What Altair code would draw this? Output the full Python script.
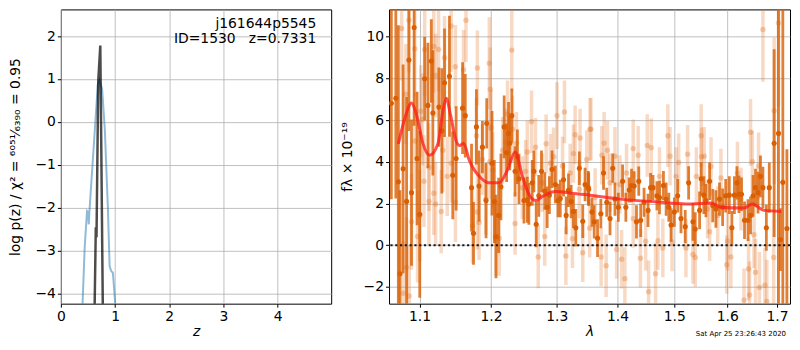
import altair as alt
import pandas as pd

# ---------------- left panel: p(z) ----------------
pz_z = [0.39, 0.44, 0.483, 0.50, 0.515, 0.528, 0.682, 0.713, 0.762, 0.812,
        0.868, 0.90, 0.93, 0.96, 0.998, 1.02]
pz_logp = [-4.6, -2.92, -2.08, -2.10, -2.39, -2.08, 0.87, 0.98, 0.76, -0.19,
           -2.01, -3.37, -3.48, -3.52, -4.13, -4.6]

pzfine_z = [0.620, 0.645, 0.658, 0.690, 0.728, 0.775, 0.790]
pzfine_logp = [-4.6, -2.46, -2.69, 0.95, 1.78, -4.4, -4.8]

z_ticks = [0, 1, 2, 3, 4]
logp_ticks = [-4, -3, -2, -1, 0, 1, 2]
label_lines = ["j161644p5545", "ID=1530\u00a0\u00a0\u00a0z=0.7331"]

# ---------------- right panel: spectrum ----------------
model_lam = [1.0721, 1.0808, 1.0894, 1.0960, 1.1048, 1.1137, 1.1250, 1.1318, 1.1364,
             1.1423, 1.1502, 1.1553, 1.1607, 1.1687, 1.1854, 1.1972, 1.2122, 1.2245,
             1.2358, 1.2469, 1.2567, 1.2669, 1.2797, 1.2979, 1.3243, 1.3537, 1.4042,
             1.4617, 1.5307, 1.5687, 1.5877, 1.6330, 1.6495, 1.6730, 1.7088]
model_flux = [4.86, 6.11, 6.81, 6.26, 4.86, 4.31, 4.86, 6.42, 7.04,
              6.26, 5.01, 4.78, 4.89, 4.08, 3.22, 2.99, 2.99, 3.61,
              4.47, 3.30, 2.44, 2.14, 2.37, 2.57, 2.49, 2.40, 2.21,
              2.09, 1.98, 2.02, 1.82, 1.78, 1.98, 1.67, 1.62]

dark_lam = [
    1.0630, 1.0688, 1.0721, 1.0742, 1.0783, 1.0829, 1.0860, 1.0894, 1.0929, 1.0968,
    1.1004, 1.1070, 1.1114, 1.1160, 1.1181, 1.1263, 1.1304, 1.1341, 1.1409, 1.1455,
    1.1502, 1.1593, 1.1631, 1.1720, 1.1748, 1.1790, 1.1828, 1.1876, 1.1939,
    1.1929, 1.2016, 1.2049, 1.2074, 1.2113, 1.2147, 1.2195, 1.2231, 1.2260, 1.2279,
    1.2309, 1.2358, 1.2393, 1.2417, 1.2492, 1.2543, 1.2567, 1.2619, 1.2644, 1.2680,
    1.2720, 1.2762, 1.2813, 1.2850, 1.2885, 1.2927, 1.2979, 1.3021, 1.3057, 1.3109,
    1.3151, 1.3188, 1.3231, 1.3268, 1.3306, 1.3364, 1.3419, 1.3457, 1.3510,
    1.3516, 1.3570, 1.3607, 1.3663, 1.3718, 1.3763, 1.3817, 1.3872, 1.3918, 1.3956,
    1.4013, 1.4086, 1.4142, 1.4200, 1.4240, 1.4286, 1.4326, 1.4366, 1.4400, 1.4459,
    1.4529, 1.4574, 1.4617, 1.4687, 1.4733, 1.4804, 1.4853, 1.4901, 1.4942, 1.5002,
    1.5063, 1.5124, 1.5202, 1.5265,
    1.5345, 1.5388, 1.5470, 1.5500, 1.5550, 1.5590, 1.5660, 1.5720, 1.5780, 1.5850,
    1.5910, 1.5970, 1.6040, 1.6090, 1.6140, 1.6190, 1.6230, 1.6280, 1.6340, 1.6410,
    1.6460, 1.6510, 1.6560, 1.6610, 1.6660, 1.6710, 1.6780, 1.6840, 1.6940, 1.7030,
    1.7070, 1.7120, 1.7205]
dark_flux = [
    6.80, 7.04, 3.04, -1.37, 3.66, 2.10, 8.88, 2.52, 10.43, 4.16,
    1.48, 7.98, 6.70, 8.83, 6.34, 6.62, 5.48, 7.79, 8.10, 3.35,
    4.16, 6.57, 6.21, 2.76, 0.57, 5.67, 2.84, 4.70, 5.84,
    2.14, 3.93, 2.09, 0.42, 1.43, 2.80, 5.67, 4.43, 5.36, 4.89,
    6.21, 3.54, 4.24, 3.18, 2.14, 2.18, 1.98, 2.99, 3.54, 1.00,
    2.37, 3.54, 2.60, 1.82, 2.40, 3.64, 2.91, 2.14, 2.24, 3.14,
    1.43, 2.63, 2.09, 1.62, 0.84, 3.69, 1.15, 2.91, 2.76,
    2.68, 1.59, 1.12, 0.34, 1.51, 3.46, 2.06, 1.28, 3.69, 2.21,
    1.82, 3.07, 1.82, 2.65, 2.86, 2.84, 1.12, 3.07, 1.20, 2.06,
    1.67, 2.76, 2.76, 2.37, 2.29, 2.86, 2.21, 1.82, 0.97, 1.59,
    2.37, 1.28, 0.89, 2.99,
    1.12, 0.78, 1.67, 3.18, 2.40, 2.14, 3.07, 1.90, 1.74, 2.21,
    1.82, 2.37, 2.40, 0.84, 2.40, 2.99, 2.44, 2.44, 1.20, 1.20,
    1.43, 2.37, 2.76, 2.52, 3.30, 2.76, 0.84, 2.76, 4.89, 5.36,
    0.27, 3.02, 0.80]
dark_err = [
    4.6, 4.8, 7.5, 4.0, 5.0, 5.0, 3.4, 3.5, 4.7, 3.2,
    4.0, 2.0, 3.0, 2.0, 3.0, 1.9, 3.0, 2.6, 2.9, 2.1,
    2.5, 2.2, 2.0, 2.1, 1.5, 1.8, 1.7, 1.25, 1.2,
    1.8, 2.5, 2.0, 2.0, 1.8, 1.6, 1.5, 1.4, 1.5, 1.3,
    1.3, 1.2, 1.3, 1.2, 1.1, 1.1, 1.0, 1.1, 1.0, 1.1,
    1.0, 1.0, 0.9, 1.0, 0.9, 0.9, 0.9, 0.8, 0.9, 0.8,
    0.9, 0.8, 0.8, 0.8, 0.9, 0.8, 0.8, 0.8, 0.8,
    0.8, 0.7, 0.8, 0.9, 0.7, 0.8, 0.7, 0.8, 0.7, 0.8,
    0.7, 0.8, 0.7, 0.6, 0.8, 0.7, 0.8, 0.7, 0.8, 0.7,
    0.8, 0.7, 0.6, 0.7, 0.8, 0.7, 0.8, 0.7, 0.8, 0.7,
    0.8, 0.7, 0.8, 0.8,
    0.9, 0.8, 0.9, 0.8, 0.9, 0.8, 0.9, 0.8, 0.9, 0.8,
    0.9, 0.8, 0.9, 0.8, 0.9, 0.8, 0.9, 0.8, 0.9, 1.0,
    0.9, 1.0, 0.9, 1.0, 1.0, 1.0, 1.1, 1.2, 4.5, 10.0,
    1.5, 10.0, 3.8]

light_lam = [
    1.0764, 1.0860, 1.0938, 1.1070, 1.1194, 1.1259, 1.1341, 1.1433, 1.1492, 1.1607,
    1.1641, 1.1804, 1.1218, 1.0820, 1.1017, 1.1040, 1.0938, 1.1128, 1.1061, 1.1194,
    1.1128, 1.1218, 1.1295, 1.1378, 1.1433, 1.1492, 1.1318, 1.1004, 1.0894, 1.0974,
    1.0829, 1.0783, 1.0864, 1.1804, 1.1828, 1.1734, 1.1925, 1.1790, 1.1876,
    1.1977, 1.1990, 1.2001, 1.1985, 1.2074, 1.2122, 1.2245, 1.2220, 1.2309, 1.2319,
    1.2379, 1.2358, 1.2543, 1.2608, 1.2669, 1.2711, 1.2813, 1.2834, 1.2952, 1.3005,
    1.3093, 1.3124, 1.3146, 1.3252, 1.3295, 1.3375, 1.3419, 1.3484, 1.3538, 1.2772,
    1.2901, 1.2517, 1.2468, 1.2172, 1.2027, 1.3215, 1.3364, 1.3268,
    1.3554, 1.3773, 1.3829, 1.3734, 1.3956, 1.3723, 1.3806, 1.4069, 1.4125, 1.4269,
    1.4355, 1.4395, 1.4516, 1.4586, 1.4539, 1.4663, 1.4705, 1.4883, 1.4924, 1.5081,
    1.5246, 1.5215, 1.4960, 1.4793, 1.4154, 1.4040, 1.3872, 1.3623, 1.3533, 1.3984,
    1.4269, 1.4487, 1.5033, 1.4733,
    1.5500, 1.5505, 1.5557, 1.5687, 1.5877, 1.6460, 1.6495, 1.6622, 1.6710, 1.6940,
    1.7030, 1.5345, 1.5388, 1.5990, 1.6070, 1.6420, 1.6560, 1.6640, 1.6750, 1.6930,
    1.6330, 1.6440, 1.6790, 1.5620, 1.5815, 1.6200, 1.6270, 1.6530, 1.5410, 1.6006,
    1.5660]
light_flux = [
    10.39, 10.78, 9.42, 9.38, 9.53, 9.38, 8.99, 10.51, 8.55, 8.41,
    10.78, 8.49, 8.13, 7.24, 6.42, 6.03, 4.99, 3.74, 3.07, 2.49,
    2.10, 1.98, 1.62, 3.30, 3.93, 2.06, 4.55, 1.43, 1.12, 0.42,
    -1.06, -2.30, -2.43, 1.59, 1.09, 0.93, 2.21, 5.25, 4.11,
    8.72, 7.48, 5.64, 4.00, 0.34, 0.34, 6.29, 4.94, 9.35, 5.56,
    4.89, 1.04, 4.47, 5.92, 4.70, -0.56, 0.42, 4.86, 4.24, 6.21,
    3.80, 6.39, -0.51, 0.31, 5.29, 5.14, -0.36, 4.11, 5.56, 2.99,
    3.93, 3.54, 2.76, 4.55, 3.61, 3.46, 2.68, 4.39,
    5.56, 4.89, 4.55, 4.31, 4.27, -0.56, -0.98, -0.67, -1.60, 4.63,
    4.31, -0.62, 4.78, 4.67, -2.23, -1.37, 0.22, 5.25, 4.27, 3.96,
    4.36, -0.13, 0.15, -0.13, 3.46, 2.91, 2.99, 2.29, 0.81, -0.20,
    1.28, 0.19, 3.30, 3.30,
    5.25, 4.24, 4.27, 3.77, 3.22, 5.41, 4.00, 3.80, 10.34, 6.45,
    10.65, -0.44, -0.59, -0.93, -0.56, -1.14, -1.29, -2.02, -1.92, -0.59,
    -2.62, -2.38, -2.70, 1.74, 1.43, 3.46, 2.21, 0.50, 3.30, 0.19,
    0.65]
light_err = [
    2.5, 2.5, 2.3, 2.2, 2.2, 2.0, 2.0, 2.2, 2.0, 1.9,
    2.0, 1.8, 2.0, 2.4, 2.2, 2.2, 2.3, 2.1, 2.2, 2.0,
    2.1, 2.0, 2.0, 1.9, 1.9, 1.9, 2.0, 2.2, 2.3, 2.2,
    2.4, 2.5, 2.4, 1.8, 1.8, 1.8, 1.7, 1.8, 1.7,
    2.2, 2.0, 1.8, 1.8, 1.8, 1.8, 1.6, 1.6, 2.0, 1.6,
    1.5, 1.5, 1.5, 1.5, 1.4, 1.5, 1.4, 1.4, 1.4, 1.6,
    1.4, 1.5, 1.4, 1.4, 1.4, 1.4, 1.4, 1.4, 1.5, 1.4,
    1.4, 1.5, 1.5, 1.6, 1.8, 1.4, 1.4, 1.4,
    1.5, 1.5, 1.4, 1.4, 1.4, 1.4, 1.5, 1.4, 1.5, 1.4,
    1.4, 1.4, 1.5, 1.4, 1.5, 1.5, 1.4, 1.5, 1.4, 1.4,
    1.4, 1.4, 1.4, 1.4, 1.4, 1.4, 1.4, 1.4, 1.4, 1.4,
    1.4, 1.4, 1.4, 1.4,
    1.5, 1.4, 1.4, 1.4, 1.4, 1.6, 1.5, 1.6, 2.5, 3.5,
    4.0, 1.4, 1.4, 1.4, 1.5, 1.5, 1.6, 1.7, 1.8, 2.5,
    1.5, 1.6, 2.0, 1.4, 1.4, 1.5, 1.5, 1.6, 1.4, 1.4,
    1.4]

lam_ticks = [1.1, 1.2, 1.3, 1.4, 1.5, 1.6, 1.7]
flux_ticks = [-2, 0, 2, 4, 6, 8, 10]
timestamp = "Sat Apr 25 23:26:43 2020"

# ---------------- build ----------------
W1, W2, H = 271, 402, 295
ORANGE = "#d95f02"

df_pz = pd.DataFrame({"z": pz_z, "logp": pz_logp})
df_fine = pd.DataFrame({"z": pzfine_z, "logp": pzfine_logp})

z_scale = alt.Scale(domain=[0, 4.99], nice=False, zero=False)
p_scale = alt.Scale(domain=[-4.24, 2.62], nice=False, zero=False)
xz = alt.X("z:Q", scale=z_scale,
           axis=alt.Axis(values=z_ticks, format="d", title="z", titleFontStyle="italic"))
yz = alt.Y("logp:Q", scale=p_scale,
           axis=alt.Axis(values=logp_ticks, format="d",
                         title="log p(z) / χ² = ⁶⁰⁵¹⁄₆₃₉₀ = 0.95", titlePadding=12))

blue = alt.Chart(df_pz).mark_line(clip=True, color="#1f77b4", opacity=0.5,
                                  strokeWidth=2).encode(x=xz, y=yz)
spike = alt.Chart(df_fine).mark_line(clip=True, color="black", opacity=0.7,
                                     strokeWidth=2.5).encode(x=xz, y=yz)
txt1 = alt.Chart(pd.DataFrame({"t": [label_lines[0]]})).mark_text(
    align="right", baseline="alphabetic", fontSize=13.9, color="black").encode(
    x=alt.value(W1 - 15), y=alt.value(19), text="t:N")
txt2 = alt.Chart(pd.DataFrame({"t": [label_lines[1]]})).mark_text(
    align="right", baseline="alphabetic", fontSize=13.9, color="black").encode(
    x=alt.value(W1 - 15), y=alt.value(34), text="t:N")

left = alt.layer(blue, spike, txt1, txt2).properties(width=W1, height=H)

lam_scale = alt.Scale(type="log", domain=[1.06, 1.727], nice=False, zero=False)
f_scale = alt.Scale(domain=[-2.8, 11.3], nice=False, zero=False)
lam_axis = alt.Axis(values=lam_ticks, format=".1f", title="λ", titleFontStyle="italic")
f_axis = alt.Axis(values=flux_ticks, format="d", title="fλ × 10⁻¹⁹", titlePadding=9)


def xl(field):
    return alt.X(field + ":Q", scale=lam_scale, axis=lam_axis)


def yf(field):
    return alt.Y(field + ":Q", scale=f_scale, axis=f_axis)


dark = pd.DataFrame({"lam": dark_lam, "flux": dark_flux, "err": dark_err})
dark["lo"] = dark["flux"] - dark["err"]
dark["hi"] = dark["flux"] + dark["err"]
light = pd.DataFrame({"lam": light_lam, "flux": light_flux, "err": light_err})
light["lo"] = light["flux"] - light["err"]
light["hi"] = light["flux"] + light["err"]
model = pd.DataFrame({"lam": model_lam, "flux": model_flux})

light_bars = alt.Chart(light).mark_rule(clip=True, color="#e2782a", opacity=0.28,
                                        strokeWidth=3.5).encode(
    x=xl("lam"), y=yf("lo"), y2="hi:Q")
light_pts = alt.Chart(light).mark_circle(clip=True, color="#e2782a", opacity=0.35,
                                         size=30).encode(x=xl("lam"), y=yf("flux"))
dark_bars = alt.Chart(dark).mark_rule(clip=True, color=ORANGE, opacity=0.8,
                                      strokeWidth=2.8).encode(
    x=xl("lam"), y=yf("lo"), y2="hi:Q")
dark_pts = alt.Chart(dark).mark_circle(clip=True, color=ORANGE, opacity=1,
                                       size=26).encode(x=xl("lam"), y=yf("flux"))
model_line = alt.Chart(model).mark_line(clip=True, color="#ff1a1a", opacity=0.75,
                                        strokeWidth=3, interpolate="monotone").encode(
    x=xl("lam"), y=yf("flux"))
zero_line = alt.Chart(pd.DataFrame({"flux": [0.0]})).mark_rule(
    color="#1a1a1a", strokeWidth=2.2, strokeDash=[2.2, 2.6]).encode(y=yf("flux"))
stamp = alt.Chart(pd.DataFrame({"t": [timestamp]})).mark_text(
    align="right", baseline="middle", fontSize=7, color="black").encode(
    x=alt.value(W2 - 4), y=alt.value(H + 30), text="t:N")

right = alt.layer(light_bars, light_pts, dark_bars, dark_pts, model_line,
                  zero_line, stamp).properties(width=W2, height=H)

chart = (
    alt.hconcat(left, right, spacing=58, bounds="flush")
    .properties(padding={"left": 0, "top": 0, "right": 0, "bottom": 0})
    .configure(font="DejaVu Sans")
    .configure_view(stroke="black", strokeWidth=1)
    .configure_axis(labelFontSize=13.9, titleFontSize=13.9, labelColor="black",
                    titleColor="black", tickColor="black", tickSize=3.5, tickWidth=1,
                    domain=False, gridColor="#b0b0b0", gridWidth=0.8, labelPadding=2,
                    titlePadding=2, titleFontWeight="normal", labelFlush=False,
                    labelOverlap=False)
)

chart.save("out.html", embed_options={"renderer": "svg", "actions": False})
